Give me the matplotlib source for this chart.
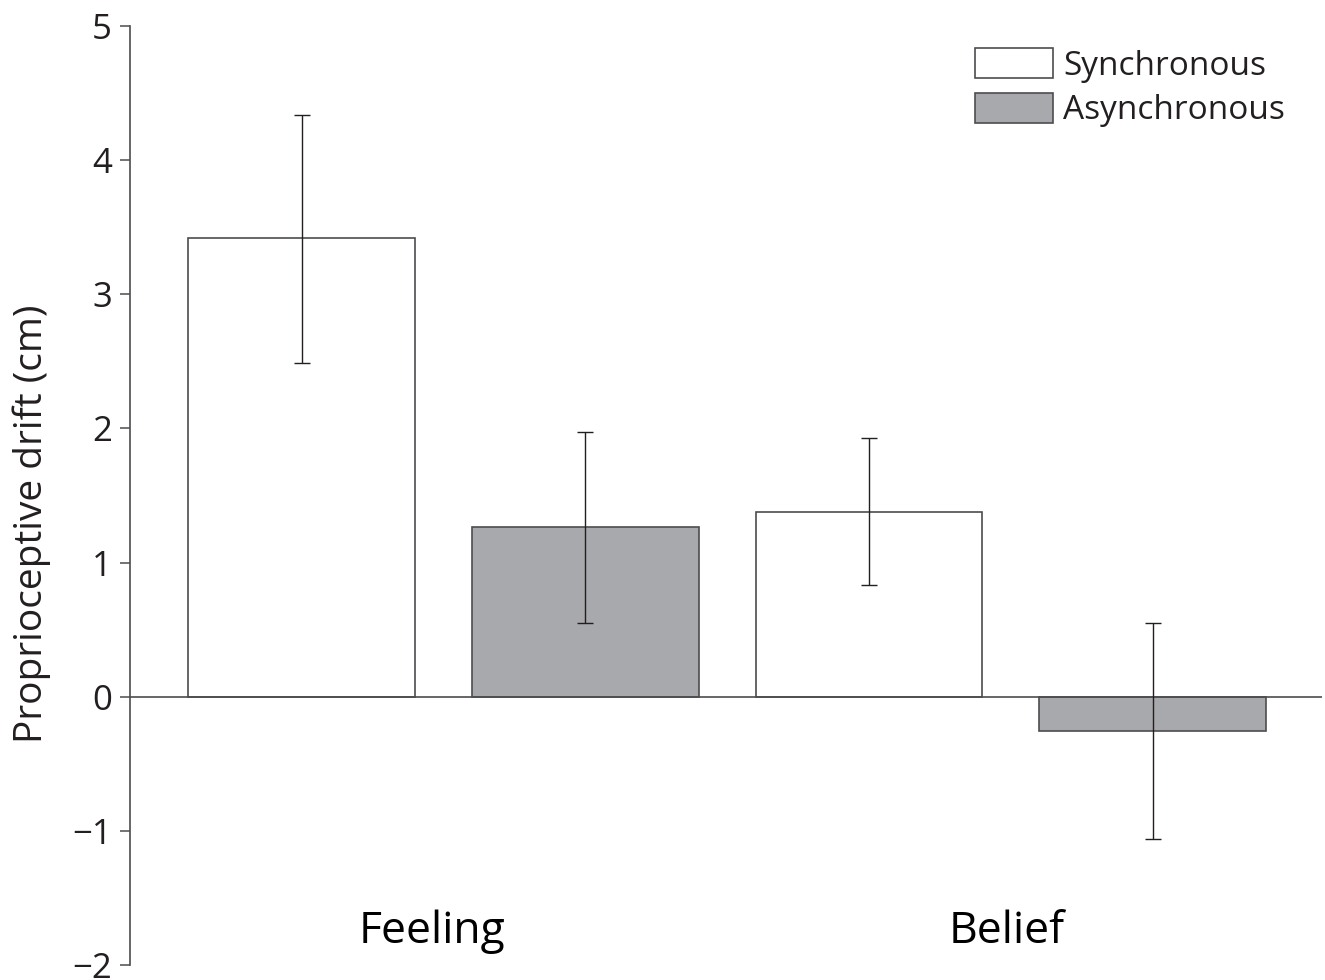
import matplotlib
matplotlib.use("Agg")
import matplotlib.pyplot as plt
from matplotlib.patches import Patch
import numpy as np

plt.rcParams['font.family'] = ['Open Sans', 'DejaVu Sans']

groups = ["Feeling", "Belief"]
conditions = ["Synchronous", "Asynchronous"]
means = {"Synchronous": [3.42, 1.38], "Asynchronous": [1.265, -0.255]}
err_upper = {"Synchronous": [4.34, 1.93], "Asynchronous": [1.97, 0.55]}
err_lower = {"Synchronous": [2.49, 0.83], "Asynchronous": [0.55, -1.06]}
yticks = [-2, -1, 0, 1, 2, 3, 4, 5]

fills = {"Synchronous": "#ffffff", "Asynchronous": "#a7a9ac"}
edge = "#4d4d4f"
txt = "#231f20"

fig = plt.figure(figsize=(13.25, 9.8), dpi=100)
ax = fig.add_axes([130/1325, 1-965/980, (1322-130)/1325, (965-26)/980])

width = 0.8
for gi, g in enumerate(groups):
    for ci, c in enumerate(conditions):
        x = gi*2 + ci
        m = means[c][gi]
        ax.bar(x, m, width=width, color=fills[c], edgecolor=edge, linewidth=1.2, zorder=2)
        lo = m - err_lower[c][gi]
        hi = err_upper[c][gi] - m
        ax.errorbar(x, m, yerr=[[lo], [hi]], fmt='none', ecolor=txt, elinewidth=1.0,
                    capsize=6, capthick=1.0, zorder=3)

ax.axhline(0, color=edge, linewidth=1.2, zorder=2.5)
ax.set_xlim(-0.605, 3.597)
ax.set_ylim(-2, 5)
ax.set_yticks(yticks)
ax.set_yticklabels([str(t).replace('-', '\u2212') for t in yticks], fontsize=25, color=txt)
ax.tick_params(axis='y', direction='out', length=7, width=1.1, color=edge, pad=6)
ax.set_xticks([])
for s in ['top', 'right', 'bottom']:
    ax.spines[s].set_visible(False)
ax.spines['left'].set_color(edge)
ax.spines['left'].set_linewidth(1.2)

ax.set_ylabel("Proprioceptive drift (cm)", fontsize=28, color=txt)
ax.yaxis.set_label_coords(-0.066, 0.47)

label_x = [0.46, 2.487]
for gi, g in enumerate(groups):
    ax.text(label_x[gi], -1.75, g, fontsize=32, color="#000000", ha='center', va='center')

handles = [Patch(facecolor=fills[c], edgecolor=edge, linewidth=1.2) for c in conditions]
leg = ax.legend(handles, conditions, loc='upper left', bbox_to_anchor=(975/1325, 1-48/980),
                bbox_transform=fig.transFigure, frameon=False, fontsize=24,
                handlelength=2.34, handleheight=1.02, handletextpad=0.3,
                labelspacing=0.3, borderpad=0, borderaxespad=0)
for t in leg.get_texts():
    t.set_color(txt)

fig.savefig("out.png", dpi=100)
